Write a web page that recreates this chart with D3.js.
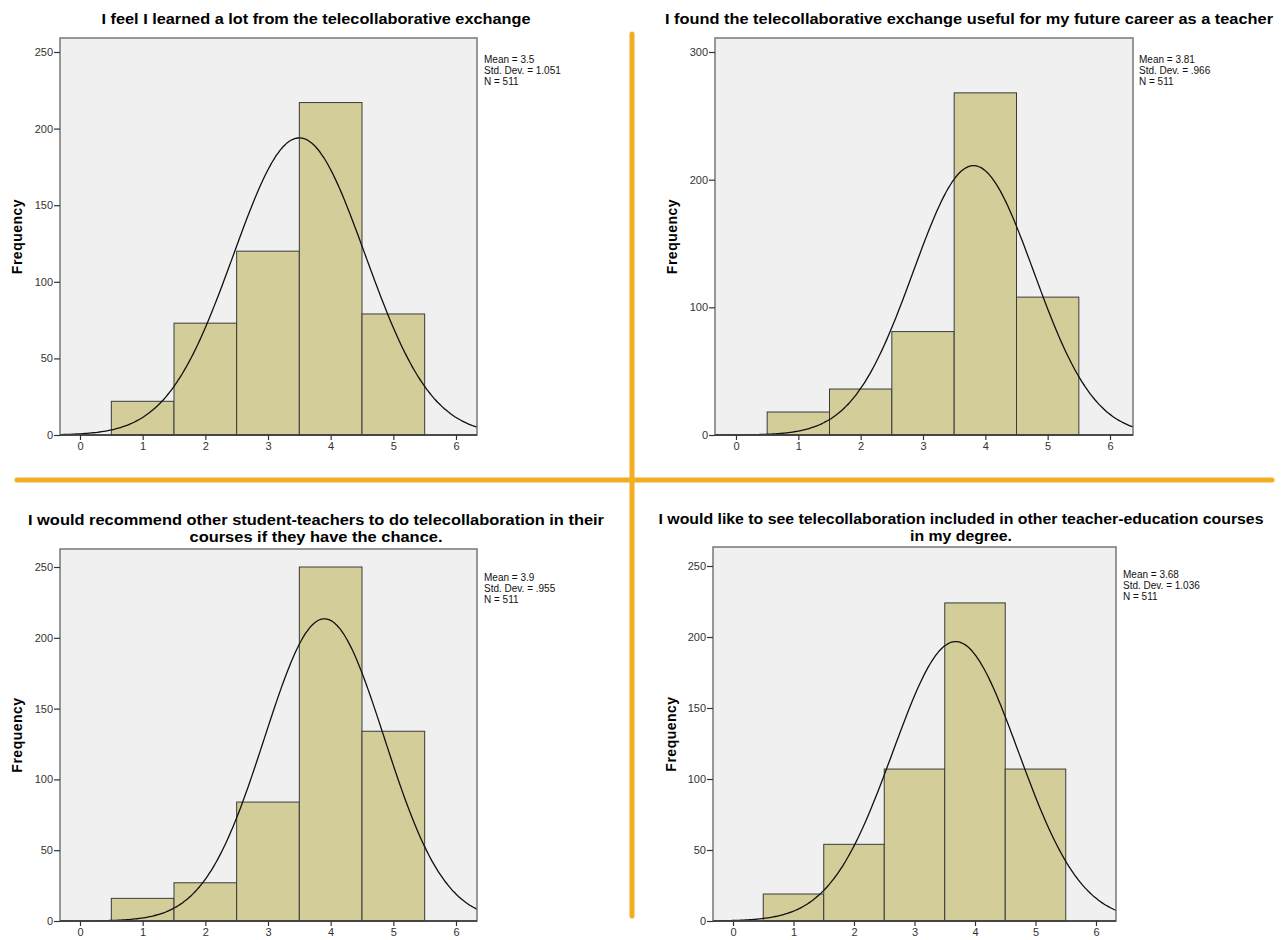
<!DOCTYPE html>
<html>
<head>
<meta charset="utf-8">
<script src="https://cdn.jsdelivr.net/npm/d3@7"></script>
<style>
  body { margin: 0; background: #fff; }
  svg { display: block; }
</style>
</head>
<body>
<svg id="chart" width="1281" height="940"></svg>
<script>
// response categories (bins centred on 1..5)
const bins = [1, 2, 3, 4, 5];
const xTicks = [0, 1, 2, 3, 4, 5, 6];

// frequencies
const learnedCounts = [22, 73, 120, 217, 79];
const usefulCounts = [18, 36, 81, 268, 108];
const recommendCounts = [16, 27, 84, 250, 134];
const includeCounts = [19, 54, 107, 224, 107];

// titles
const titles = [
    ['I feel I learned a lot from the telecollaborative exchange'],
    ['I found the telecollaborative exchange useful for my future career as a teacher'],
    ['I would recommend other student-teachers to do telecollaboration in their', 'courses if they have the chance.'],
    ['I would like to see telecollaboration included in other teacher-education courses', 'in my degree.']
];

// summary stats shown next to each plot
const means = [3.5, 3.81, 3.9, 3.68];
const meanLabels = ['3.5', '3.81', '3.9', '3.68'];
const sdLabels = ['1.051', '.966', '.955', '1.036'];
const sds = [1.051, 0.966, 0.955, 1.036];
const nValues = [511, 511, 511, 511];

// y ticks per panel
const yTicks = [
    [0, 50, 100, 150, 200, 250],
    [0, 100, 200, 300],
    [0, 50, 100, 150, 200, 250],
    [0, 50, 100, 150, 200, 250]
];
const yTopTick = [250, 300, 250, 250];

const counts = [learnedCounts, usefulCounts, recommendCounts, includeCounts];

// panel layout (pixels)
const panels = [
    { left: 60, right: 477, top: 38, bottom: 435, x0: 80, x6: 456, yTop: 52, titleX: 316, titleY: [24], titleW: [429], statX: 484, statY: 63, labX: 17 },
    { left: 715, right: 1133, top: 38, bottom: 435, x0: 736, x6: 1110, yTop: 52, titleX: 969, titleY: [24], titleW: [608], statX: 1139, statY: 63, labX: 672 },
    { left: 60, right: 477, top: 549, bottom: 921, x0: 80, x6: 456, yTop: 567, titleX: 316, titleY: [525, 542], titleW: [576, 253], statX: 484, statY: 581, labX: 17 },
    { left: 713, right: 1116, top: 547, bottom: 921, x0: 733, x6: 1096, yTop: 566, titleX: 961, titleY: [524, 541], titleW: [605, 102], statX: 1123, statY: 578, labX: 671 }
];

const svg = d3.select('#chart');
const fontMain = "'Liberation Sans', Arial, sans-serif";
const fontNarrow = "'Liberation Sans Narrow', 'Liberation Sans', Arial, sans-serif";
const orange = '#f2ad23';

// orange separators
svg.append('line')
    .attr('x1', 632).attr('x2', 632).attr('y1', 34).attr('y2', 916)
    .attr('stroke', orange).attr('stroke-width', 5).attr('stroke-linecap', 'round');
svg.append('line')
    .attr('x1', 17).attr('x2', 1272).attr('y1', 480).attr('y2', 480)
    .attr('stroke', orange).attr('stroke-width', 5).attr('stroke-linecap', 'round');

panels.forEach(function(p, i) {
    const x = d3.scaleLinear().domain([0, 6]).range([p.x0, p.x6]);
    const y = d3.scaleLinear().domain([0, yTopTick[i]]).range([p.bottom, p.yTop]);
    const g = svg.append('g');

    // plot background
    g.append('rect')
        .attr('x', p.left).attr('y', p.top)
        .attr('width', p.right - p.left).attr('height', p.bottom - p.top)
        .attr('fill', '#f0f0f0');

    // bars
    g.selectAll('rect.bar')
        .data(bins)
        .join('rect')
        .attr('class', 'bar')
        .attr('x', d => x(d - 0.5))
        .attr('width', d => x(d + 0.5) - x(d - 0.5))
        .attr('y', (d, j) => y(counts[i][j]))
        .attr('height', (d, j) => p.bottom - y(counts[i][j]))
        .attr('fill', '#d3ce99')
        .attr('stroke', '#3a3a3a')
        .attr('stroke-width', 1);

    // normal curve from the stated mean / sd / N (bin width 1)
    const xMin = x.invert(p.left), xMax = x.invert(p.right);
    const pts = d3.range(0, 201).map(k => {
        const v = xMin + (xMax - xMin) * k / 200;
        const z = (v - means[i]) / sds[i];
        return [v, nValues[i] * Math.exp(-0.5 * z * z) / (sds[i] * Math.sqrt(2 * Math.PI))];
    });
    g.append('path')
        .datum(pts)
        .attr('d', d3.line().x(d => x(d[0])).y(d => y(d[1])).curve(d3.curveBasis))
        .attr('fill', 'none')
        .attr('stroke', '#111')
        .attr('stroke-width', 1.3);

    // frame
    g.append('rect')
        .attr('x', p.left).attr('y', p.top)
        .attr('width', p.right - p.left).attr('height', p.bottom - p.top)
        .attr('fill', 'none')
        .attr('stroke', '#777')
        .attr('stroke-width', 1.5);

    // axes
    const xAxis = g.append('g')
        .attr('transform', `translate(0,${p.bottom})`)
        .call(d3.axisBottom(x).tickValues(xTicks).tickFormat(d3.format('d'))
            .tickSize(5).tickSizeOuter(0).tickPadding(2));
    const yAxis = g.append('g')
        .attr('transform', `translate(${p.left},0)`)
        .call(d3.axisLeft(y).tickValues(yTicks[i]).tickFormat(d3.format('d'))
            .tickSize(6).tickSizeOuter(0).tickPadding(1));
    [xAxis, yAxis].forEach(a => {
        a.select('.domain').remove();
        a.selectAll('.tick line').attr('stroke', '#333').attr('stroke-width', 1.2);
        a.selectAll('.tick text')
            .attr('fill', '#333')
            .style('font-family', fontNarrow)
            .style('font-size', '11px');
    });
    // x axis line through the whole frame bottom
    g.append('line')
        .attr('x1', p.left).attr('x2', p.right)
        .attr('y1', p.bottom).attr('y2', p.bottom)
        .attr('stroke', '#333').attr('stroke-width', 1.5);

    // y label
    g.append('text')
        .attr('transform', `translate(${p.labX},${(p.top + p.bottom) / 2}) rotate(-90)`)
        .attr('text-anchor', 'middle')
        .attr('dy', '0.35em')
        .style('font-family', fontMain)
        .style('font-weight', 'bold')
        .style('font-size', '14px')
        .style('letter-spacing', '0.5px')
        .text('Frequency');

    // title
    titles[i].forEach((line, k) => {
        g.append('text')
            .attr('x', p.titleX)
            .attr('y', p.titleY[k])
            .attr('text-anchor', 'middle')
            .attr('textLength', p.titleW[k])
            .attr('lengthAdjust', 'spacingAndGlyphs')
            .style('font-family', fontMain)
            .style('font-weight', 'bold')
            .style('font-size', '15px')
            .text(line);
    });

    // stats block
    const stats = ['Mean = ' + meanLabels[i], 'Std. Dev. = ' + sdLabels[i], 'N = ' + nValues[i]];
    stats.forEach((s, k) => {
        g.append('text')
            .attr('x', p.statX)
            .attr('y', p.statY + k * 11)
            .style('font-family', fontMain)
            .style('font-size', '10px')
            .attr('fill', '#111')
            .text(s);
    });
});
</script>
</body>
</html>
